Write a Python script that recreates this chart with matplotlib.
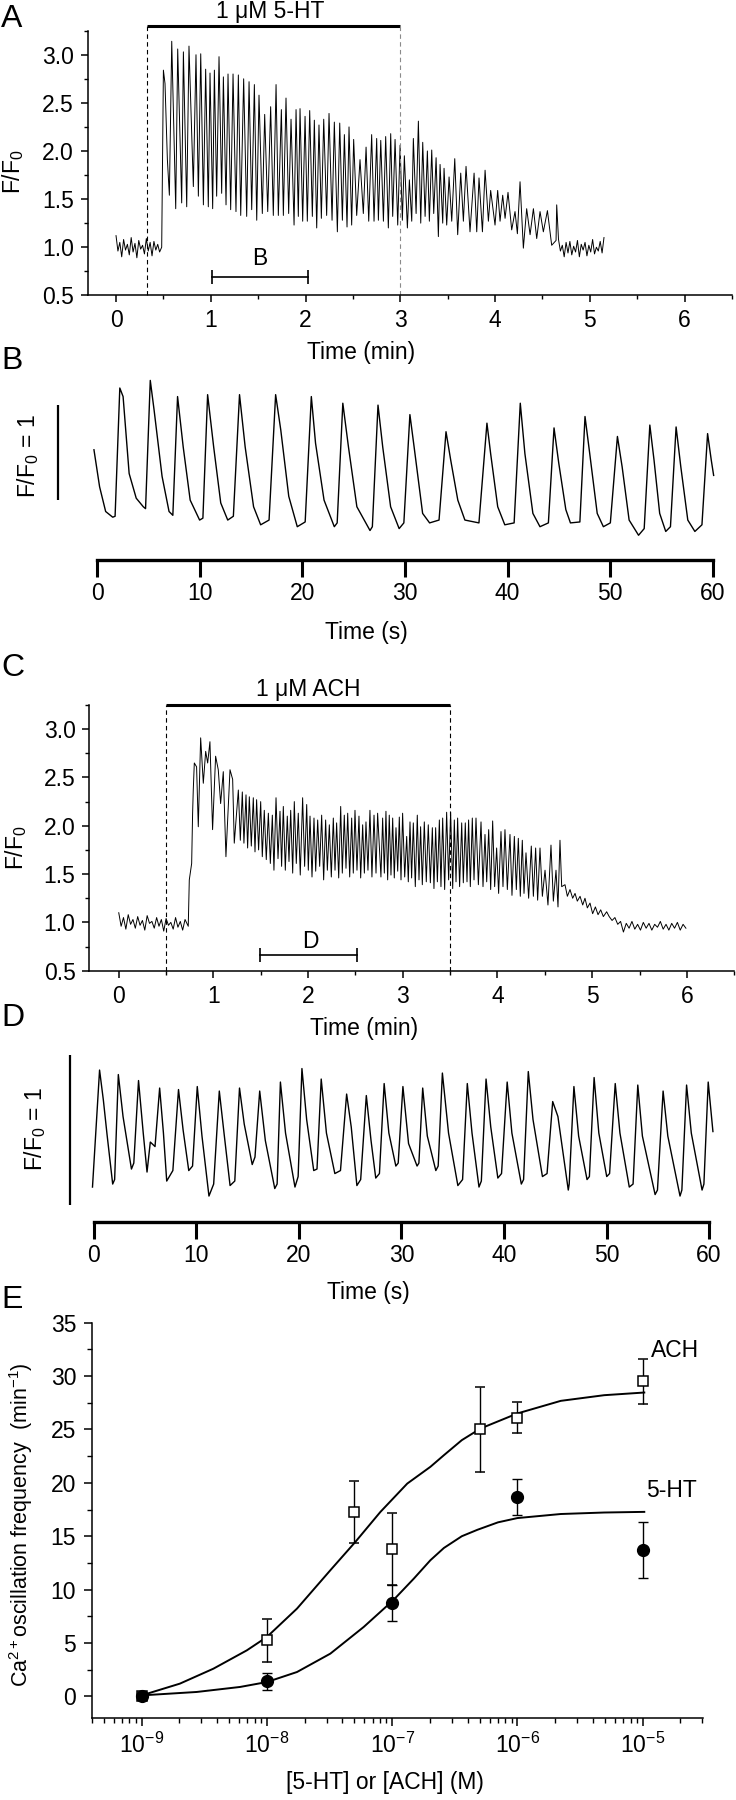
import numpy as np
import matplotlib
matplotlib.use("Agg")
import matplotlib.pyplot as plt
from matplotlib.ticker import MultipleLocator, LogLocator, NullFormatter

plt.rcParams['font.family'] = ['Liberation Sans', 'DejaVu Sans']
plt.rcParams['mathtext.fontset'] = 'custom'
plt.rcParams['mathtext.rm'] = 'Liberation Sans'
plt.rcParams['mathtext.it'] = 'Liberation Sans:italic'
plt.rcParams['mathtext.bf'] = 'Liberation Sans:bold'

# ---------------- panel A : 1 uM 5-HT, F/F0 vs time (min) ----------------
a_base_t = [0.00, 0.02, 0.04, 0.06, 0.08, 0.10, 0.12, 0.14, 0.16, 0.18, 0.20, 0.22,
            0.24, 0.26, 0.28, 0.30, 0.32, 0.34, 0.36, 0.38, 0.40, 0.42, 0.44, 0.46, 0.482]
a_base_v = [1.12, 0.96, 1.05, 0.90, 1.08, 0.97, 1.03, 0.92, 1.10, 0.95, 1.04, 0.89,
            1.07, 0.98, 1.02, 0.93, 1.09, 0.96, 1.05, 0.91, 1.06, 0.97, 1.03, 0.95, 1.00]
a_peak_t = [0.500, 0.517, 0.588, 0.651, 0.711, 0.770, 0.844, 0.894, 0.946, 0.992, 1.038,
            1.087, 1.133, 1.182, 1.235, 1.291, 1.347, 1.404, 1.460, 1.509, 1.569, 1.632,
            1.689, 1.745, 1.794, 1.847, 1.900, 1.942, 1.995, 2.044, 2.093, 2.142, 2.192,
            2.248, 2.304, 2.361, 2.410, 2.459, 2.508, 2.575, 2.639, 2.698, 2.751,
            2.794, 2.846, 2.899, 2.945, 2.998, 3.043, 3.096, 3.138, 3.191, 3.237, 3.286,
            3.332, 3.378, 3.420, 3.462, 3.515, 3.575, 3.638, 3.694, 3.779, 3.831, 3.895,
            3.954, 4.028, 4.081, 4.137, 4.211, 4.264, 4.334, 4.405, 4.475, 4.553, 4.651]
a_peak_v = [2.84, 2.70, 3.14, 3.06, 3.03, 3.09, 3.00, 3.01, 2.85, 2.81, 2.84,
            2.98, 2.77, 2.80, 2.80, 2.79, 2.75, 2.72, 2.69, 2.58, 2.38, 2.46,
            2.69, 2.43, 2.55, 2.33, 2.43, 2.44, 2.36, 2.42, 2.32, 2.27, 2.33,
            2.39, 2.30, 2.29, 2.17, 2.25, 2.12, 1.91, 2.04, 2.17, 2.13,
            2.11, 2.15, 2.18, 2.12, 2.06, 1.95, 1.70, 2.13, 2.31, 2.09, 2.00,
            2.01, 1.93, 1.86, 1.82, 1.73, 1.92, 1.77, 1.84, 1.77, 1.72, 1.80,
            1.59, 1.59, 1.54, 1.57, 1.37, 1.68, 1.40, 1.40, 1.37, 1.38, 1.44]
a_trough_t = [0.542, 0.563, 0.630, 0.693, 0.746, 0.816, 0.869, 0.922, 0.974, 1.020, 1.062,
              1.115, 1.161, 1.210, 1.266, 1.316, 1.379, 1.432, 1.485, 1.544, 1.601, 1.660,
              1.713, 1.766, 1.822, 1.879, 1.924, 1.970, 2.019, 2.072, 2.118, 2.167, 2.223,
              2.280, 2.336, 2.389, 2.438, 2.487, 2.540, 2.610, 2.667, 2.723,
              2.769, 2.822, 2.874, 2.920, 2.973, 3.022, 3.075, 3.121, 3.167, 3.216, 3.262,
              3.307, 3.353, 3.402, 3.448, 3.490, 3.543, 3.606, 3.666, 3.736, 3.807, 3.867,
              3.930, 4.000, 4.053, 4.106, 4.176, 4.236, 4.299, 4.370, 4.440, 4.510, 4.598, 4.644]
a_trough_v = [1.91, 1.54, 1.40, 1.46, 1.42, 1.63, 1.53, 1.44, 1.42, 1.40, 1.53,
              1.56, 1.44, 1.39, 1.37, 1.33, 1.32, 1.39, 1.28, 1.35, 1.37, 1.33,
              1.33, 1.33, 1.35, 1.23, 1.32, 1.27, 1.27, 1.32, 1.20, 1.30, 1.33,
              1.28, 1.16, 1.28, 1.21, 1.23, 1.33, 1.35, 1.27, 1.27,
              1.28, 1.27, 1.20, 1.32, 1.23, 1.28, 1.20, 1.27, 1.35, 1.25, 1.32,
              1.27, 1.35, 1.11, 1.25, 1.23, 1.27, 1.13, 1.27, 1.16, 1.16, 1.16,
              1.27, 1.23, 1.27, 1.30, 1.18, 1.14, 0.99, 1.13, 1.09, 1.16, 1.02, 1.07]
a_tail_t = [4.67, 4.69, 4.71, 4.73, 4.75, 4.77, 4.79, 4.81, 4.83, 4.85, 4.87, 4.89, 4.91,
            4.93, 4.95, 4.97, 4.99, 5.01, 5.03, 5.05, 5.07, 5.09, 5.11, 5.13, 5.15]
a_tail_v = [1.08, 0.96, 1.02, 0.90, 1.05, 0.94, 1.06, 0.92, 1.01, 0.95, 1.07, 0.90, 1.03,
            0.97, 1.05, 0.91, 1.02, 0.95, 1.08, 0.93, 1.00, 0.96, 1.06, 0.94, 1.10]

# ---------------- panel B : 1 min of the 5-HT trace (s) ----------------
b_t = [-0.32, 0.23, 0.82, 1.51, 1.74, 2.20, 2.52, 3.11, 3.80, 4.49, 4.71,
       5.17, 5.54, 6.32, 7.00, 7.37, 7.83, 8.38, 9.06, 9.98, 10.30,
       10.76, 11.35, 12.04, 12.72, 13.27, 13.87, 14.42, 15.24, 15.93, 16.75,
       17.39, 17.89, 18.67, 19.50, 20.27, 20.87, 21.28, 22.11, 23.11, 23.39,
       23.94, 24.49, 25.31, 26.59, 26.82, 27.37, 27.83, 28.60, 29.43, 29.89,
       30.48, 30.89, 31.72, 32.40, 33.32, 34.00, 34.46, 35.15, 35.84, 37.21,
       37.99, 38.35, 39.04, 39.73, 40.64, 41.24, 41.69, 42.47, 43.16, 43.98,
       44.53, 44.99, 45.68, 46.13, 47.05, 47.55, 48.01, 48.74, 49.34, 50.02,
       50.71, 51.17, 51.85, 52.77, 53.32, 53.87, 54.28, 54.83, 55.42, 55.88,
       56.43, 56.89, 57.57, 58.26, 58.95, 59.50, 59.86, 60.09]
b_v = [2.10, 1.71, 1.45, 1.39, 1.40, 2.75, 2.66, 1.85, 1.59, 1.50, 1.48,
       2.83, 2.52, 1.82, 1.45, 1.41, 2.66, 2.13, 1.57, 1.36, 1.38,
       2.68, 2.13, 1.54, 1.36, 1.40, 2.68, 2.13, 1.50, 1.31, 1.36,
       2.68, 2.31, 1.61, 1.29, 1.34, 2.66, 2.17, 1.57, 1.29, 1.33,
       2.59, 2.13, 1.50, 1.25, 1.29, 2.57, 2.13, 1.50, 1.27, 1.33,
       2.47, 2.13, 1.43, 1.33, 1.36, 2.29, 1.99, 1.57, 1.36, 1.33,
       2.38, 2.06, 1.50, 1.31, 1.33, 2.59, 2.06, 1.43, 1.29, 1.33,
       2.33, 1.96, 1.47, 1.33, 1.34, 2.45, 2.06, 1.43, 1.29, 1.33,
       2.24, 1.92, 1.36, 1.20, 1.27, 2.36, 1.99, 1.43, 1.24, 1.29,
       2.34, 1.92, 1.36, 1.24, 1.31, 2.27, 1.99, 1.83]

# ---------------- panel C : 1 uM ACH, F/F0 vs time (min) ----------------
c_base_t = [0.000, 0.025, 0.050, 0.075, 0.100, 0.125, 0.150, 0.175, 0.200, 0.225,
            0.250, 0.275, 0.300, 0.325, 0.350, 0.375, 0.400, 0.425, 0.450, 0.475,
            0.500, 0.525, 0.550, 0.575, 0.600, 0.625, 0.650, 0.675, 0.700, 0.734]
c_base_v = [1.10, 0.96, 1.05, 0.93, 1.08, 0.98, 1.03, 0.94, 1.06, 0.97,
            1.02, 0.92, 1.07, 0.99, 1.01, 0.94, 1.05, 0.96, 1.03, 0.91,
            1.04, 0.97, 1.00, 0.93, 1.05, 0.95, 1.01, 0.92, 1.03, 0.96]
c_early_t = [0.745, 0.770, 0.780, 0.787, 0.798, 0.822, 0.840, 0.865, 0.893, 0.918, 0.939,
             0.963, 0.991, 1.023, 1.051, 1.076, 1.104, 1.132, 1.175, 1.203, 1.220,
             1.263, 1.284]
c_early_v = [1.44, 1.61, 2.13, 2.37, 2.65, 2.61, 1.99, 2.91, 2.44, 2.77, 2.65,
             2.87, 1.96, 2.72, 2.58, 2.23, 2.56, 1.68, 2.58, 2.48, 1.82,
             2.37, 1.85]
c_peak_t = [1.305, 1.344, 1.379, 1.421, 1.456, 1.499, 1.537, 1.580, 1.622, 1.661, 1.703,
            1.738, 1.780, 1.816, 1.854, 1.896, 1.942, 1.985, 2.020, 2.062, 2.101, 2.143,
            2.185, 2.224, 2.266, 2.301, 2.344, 2.382, 2.418, 2.460, 2.495, 2.537, 2.576,
            2.611, 2.653, 2.696, 2.734, 2.787, 2.822, 2.857, 2.893, 2.928, 2.963, 2.998,
            3.041, 3.076, 3.111, 3.153, 3.188, 3.227, 3.269, 3.312, 3.347, 3.386, 3.421,
            3.463, 3.505, 3.544, 3.579, 3.622, 3.660, 3.695, 3.734, 3.773, 3.826, 3.868,
            3.907, 3.949, 3.991, 4.037, 4.079, 4.132, 4.178, 4.220, 4.262, 4.301, 4.357,
            4.403, 4.449, 4.502, 4.565, 4.618, 4.660]
c_peak_v = [2.35, 2.32, 2.30, 2.29, 2.27, 2.25, 2.16, 2.13, 2.11, 2.29, 2.15,
            2.20, 2.10, 2.16, 2.25, 2.13, 2.29, 2.22, 2.10, 2.08, 2.06, 2.11,
            2.06, 2.01, 2.08, 2.03, 2.20, 2.11, 2.13, 2.08, 2.16, 2.10, 2.01,
            2.04, 2.16, 2.11, 2.13, 2.08, 2.15, 2.11, 2.08, 1.98, 2.09, 2.13,
            1.89, 2.04, 2.03, 2.11, 1.99, 2.04, 2.01, 1.98, 1.98, 2.06, 2.08,
            2.14, 2.14, 2.06, 2.08, 2.03, 2.03, 2.06, 2.08, 2.08, 2.04, 1.91,
            1.96, 2.05, 1.77, 1.94, 1.96, 1.91, 1.89, 1.87, 1.85, 1.72, 1.79,
            1.77, 1.77, 1.54, 1.80, 1.54, 1.85]
c_trough_t = [1.322, 1.361, 1.400, 1.439, 1.477, 1.516, 1.558, 1.601, 1.639, 1.682, 1.720,
              1.759, 1.798, 1.837, 1.875, 1.917, 1.963, 2.002, 2.041, 2.080, 2.122, 2.164,
              2.203, 2.245, 2.284, 2.323, 2.361, 2.400, 2.439, 2.477, 2.516, 2.555, 2.594,
              2.632, 2.674, 2.717, 2.769, 2.805, 2.840, 2.875, 2.910, 2.946, 2.981, 3.020,
              3.058, 3.093, 3.132, 3.171, 3.206, 3.248, 3.291, 3.329, 3.365, 3.403, 3.442,
              3.484, 3.527, 3.562, 3.600, 3.639, 3.678, 3.713, 3.752, 3.798, 3.847, 3.886,
              3.928, 3.970, 4.012, 4.058, 4.104, 4.153, 4.199, 4.241, 4.280, 4.329, 4.379,
              4.424, 4.474, 4.533, 4.590, 4.639]
c_trough_v = [1.82, 1.77, 1.79, 1.73, 1.75, 1.68, 1.65, 1.61, 1.54, 1.66, 1.58,
              1.54, 1.63, 1.51, 1.61, 1.49, 1.58, 1.54, 1.47, 1.53, 1.58, 1.44,
              1.54, 1.47, 1.54, 1.46, 1.51, 1.56, 1.47, 1.51, 1.54, 1.46, 1.51,
              1.54, 1.47, 1.51, 1.47, 1.51, 1.44, 1.49, 1.46, 1.53, 1.44, 1.47,
              1.42, 1.46, 1.37, 1.44, 1.39, 1.42, 1.41, 1.35, 1.42, 1.37, 1.34,
              1.44, 1.35, 1.42, 1.37, 1.41, 1.42, 1.37, 1.44, 1.39, 1.37, 1.42,
              1.34, 1.37, 1.30, 1.37, 1.34, 1.28, 1.34, 1.27, 1.30, 1.25, 1.27,
              1.23, 1.27, 1.18, 1.22, 1.16]
c_tail_t = [4.678, 4.713, 4.738, 4.766, 4.794, 4.819, 4.843, 4.872, 4.900, 4.924, 4.949,
            4.977, 5.005, 5.034, 5.062, 5.090, 5.118, 5.153, 5.18, 5.21, 5.24, 5.27,
            5.30, 5.33, 5.36, 5.39, 5.42, 5.45, 5.48, 5.51, 5.54, 5.57, 5.60, 5.63,
            5.66, 5.69, 5.72, 5.75, 5.78, 5.81, 5.84, 5.87, 5.90, 5.93, 5.96, 5.99]
c_tail_v = [1.37, 1.39, 1.27, 1.34, 1.25, 1.30, 1.22, 1.27, 1.18, 1.25, 1.15,
            1.20, 1.09, 1.16, 1.08, 1.13, 1.06, 1.11, 1.06, 1.02, 1.05, 0.98,
            1.01, 0.90, 0.99, 0.94, 1.01, 0.93, 0.98, 0.92, 1.00, 0.94, 0.99, 0.92,
            0.98, 0.95, 1.01, 0.93, 0.98, 0.92, 0.99, 0.94, 1.00, 0.92, 0.98, 0.94]

# ---------------- panel D : 1 min of the ACH trace (s) ----------------
d_t = [-0.14, 0.55, 0.92, 1.28, 1.83, 2.02, 2.38, 2.84, 3.66, 3.89, 4.35, 4.81, 5.18,
       5.50, 5.96, 6.41, 6.78, 7.10, 7.70, 8.25, 8.70, 9.25, 9.62, 10.08, 10.54,
       11.22, 11.68, 12.23, 12.69, 13.28, 13.74, 14.20, 14.66, 15.44, 15.71, 16.17,
       16.72, 17.64, 17.87, 18.19, 18.69, 19.61, 19.92, 20.29, 20.75, 21.44, 21.76,
       22.17, 22.68, 23.50, 24.05, 24.65, 25.10, 25.65, 26.02, 26.57, 27.03, 27.49,
       27.85, 28.31, 28.77, 29.45, 29.68, 30.14, 30.69, 31.52, 31.70, 32.07, 32.52,
       33.35, 33.58, 33.99, 34.59, 35.50, 35.96, 36.42, 36.88, 37.56, 37.79, 38.25,
       38.71, 39.40, 39.76, 40.31, 40.77, 41.69, 41.91, 42.37, 42.83, 43.75, 44.20,
       44.75, 45.26, 46.27, 46.36, 46.82, 47.28, 48.10, 48.33, 48.79, 49.25, 50.02,
       50.30, 50.85, 51.31, 52.22, 52.59, 53.05, 53.50, 54.74, 54.97, 55.52, 55.98,
       57.17, 57.35, 57.81, 58.27, 59.32, 59.50, 59.92, 60.38]
d_v = [1.27, 2.05, 1.85, 1.62, 1.29, 1.32, 2.02, 1.74, 1.39, 1.43, 1.98, 1.63, 1.37,
       1.57, 1.54, 1.93, 1.63, 1.31, 1.38, 1.92, 1.65, 1.38, 1.41, 1.94, 1.61,
       1.21, 1.29, 1.91, 1.63, 1.28, 1.31, 1.93, 1.69, 1.42, 1.47, 1.91,
       1.58, 1.26, 1.29, 1.97, 1.63, 1.27, 1.34, 2.06, 1.72, 1.38, 1.39,
       1.99, 1.63, 1.36, 1.38, 1.89, 1.67, 1.28, 1.32, 1.88, 1.58, 1.33,
       1.36, 1.96, 1.63, 1.41, 1.43, 1.94, 1.56, 1.41, 1.43, 1.93, 1.61,
       1.38, 1.41, 2.03, 1.63, 1.28, 1.32, 1.96, 1.63, 1.27, 1.31, 1.99,
       1.67, 1.33, 1.36, 1.97, 1.63, 1.29, 1.32, 2.04, 1.72, 1.34, 1.36,
       1.84, 1.74, 1.25, 1.29, 1.94, 1.61, 1.32, 1.34, 2.00, 1.63, 1.34,
       1.36, 1.96, 1.63, 1.27, 1.29, 1.95, 1.61, 1.22, 1.25, 1.91, 1.61,
       1.21, 1.25, 1.95, 1.63, 1.25, 1.29, 1.97, 1.64]

# ---------------- panel E : dose-response ----------------
conc = [1e-9, 1e-8, 5e-8, 1e-7, 5e-7, 1e-6, 1e-5]
ach_freq = [0.0, 5.25, 17.3, 13.8, 25.0, 26.1, 29.5]
ach_err = [0.2, 2.0, 2.9, 3.35, 4.0, 1.45, 2.1]
ht_conc = [1e-9, 1e-8, 1e-7, 1e-6, 1e-5]
ht_freq = [0.0, 1.4, 8.75, 18.7, 13.7]
ht_err = [0.3, 0.8, 1.7, 1.7, 2.6]
# fitted curves
ach_fit_x = [1e-9, 2.02e-9, 3.74e-9, 6.92e-9, 1e-8, 1.74e-8, 3.21e-8, 5.08e-8, 8.05e-8,
             1.32e-7, 2.02e-7, 2.59e-7, 3.6e-7, 5.08e-7, 1e-6, 2.22e-6, 4.93e-6, 1.03e-5]
ach_fit_y = [0.09, 1.19, 2.59, 4.31, 5.56, 8.22, 11.81, 14.46, 17.27,
             19.93, 21.5, 22.59, 24.0, 25.09, 26.5, 27.68, 28.21, 28.46]
ht_fit_x = [1e-9, 2.75e-9, 6.11e-9, 1e-8, 1.74e-8, 3.21e-8, 5.93e-8, 1.02e-7, 1.49e-7,
            2.02e-7, 2.59e-7, 3.6e-7, 4.79e-7, 7e-7, 1e-6, 2.22e-6, 4.93e-6, 1.03e-5]
ht_fit_y = [0.09, 0.41, 0.88, 1.34, 2.28, 4.0, 6.5, 9.0, 11.03,
            12.75, 13.9, 15.0, 15.6, 16.3, 16.7, 17.08, 17.22, 17.28]

W, H = 736.0, 1800.0
FS = 16.5

fig = plt.figure(figsize=(W / 100, H / 100), dpi=100)


def px_axes(left, top, right, bottom):
    return fig.add_axes([left / W, 1 - bottom / H, (right - left) / W, (bottom - top) / H])


def px_text(x, y, s, **kw):
    fig.text(x / W, 1 - y / H, s, **kw)


def merge(*pairs):
    t = np.concatenate([np.asarray(p[0], float) for p in pairs])
    v = np.concatenate([np.asarray(p[1], float) for p in pairs])
    order = np.argsort(t, kind='stable')
    return t[order], v[order]


def style_trace_axes(ax):
    for s in ['top', 'right']:
        ax.spines[s].set_visible(False)
    for s in ['left', 'bottom']:
        ax.spines[s].set_linewidth(1.1)
    ax.set_xlim(-0.3, 6.5)
    ax.set_ylim(0.5, 3.25)
    ax.xaxis.set_major_locator(MultipleLocator(1))
    ax.xaxis.set_minor_locator(MultipleLocator(0.5))
    ax.yaxis.set_major_locator(MultipleLocator(0.5))
    ax.yaxis.set_minor_locator(MultipleLocator(0.25))
    ax.tick_params(which='major', direction='out', length=5, width=1.1, labelsize=FS, pad=5)
    ax.tick_params(which='minor', direction='out', length=3, width=1.0)


def style_time_axes(ax):
    for s in ['top', 'right', 'left']:
        ax.spines[s].set_visible(False)
    ax.spines['bottom'].set_linewidth(2.4)
    ax.spines['bottom'].set_bounds(0, 60)
    ax.set_yticks([])
    ax.set_xticks([0, 10, 20, 30, 40, 50, 60])
    ax.tick_params(axis='x', direction='out', length=12, width=2.2, labelsize=FS, pad=4)


# ---- A ----
axA = px_axes(87.6, 30.7, 731.9, 295.3)
style_trace_axes(axA)
tA, vA = merge((a_base_t, a_base_v), (a_peak_t, a_peak_v),
               (a_trough_t, a_trough_v), (a_tail_t, a_tail_v))
axA.plot(tA, vA, color='black', lw=0.7)
axA.plot([0.33, 3.0], [3.30, 3.30], color='black', lw=2.2, clip_on=False, solid_capstyle='butt')
axA.plot([0.33, 0.33], [0.5, 3.30], color='black', lw=0.8, ls=(0, (4, 3)), clip_on=False)
axA.plot([3.0, 3.0], [0.5, 3.30], color='#8a8a8a', lw=0.8, ls=(0, (4, 3)), clip_on=False)
axA.text(1.63, 3.335, '1 μM 5-HT', ha='center', va='bottom', fontsize=FS, clip_on=False)
axA.plot([1.015, 2.026], [0.69, 0.69], color='black', lw=1.2, marker='|', markersize=10, mew=1.2)
axA.text(1.52, 0.885, 'B', ha='center', va='center', fontsize=FS)

# ---- B ----
axB = px_axes(40, 375, 720, 560)
style_time_axes(axB)
axB.set_xlim(-5.58, 60.71)
axB.set_ylim(0.9395, 2.887)
axB.plot(b_t, b_v, color='black', lw=1.0, clip_on=False)
axB.plot([-3.85, -3.85], [1.571, 2.571], color='black', lw=1.6, solid_capstyle='butt')

# ---- C ----
axC = px_axes(89.4, 705, 734.2, 970.7)
style_trace_axes(axC)
axC.set_xlim(-0.31, 6.5)
tC, vC = merge((c_base_t, c_base_v), (c_early_t, c_early_v), (c_peak_t, c_peak_v),
               (c_trough_t, c_trough_v), (c_tail_t, c_tail_v))
axC.plot(tC, vC, color='black', lw=0.7)
axC.plot([0.5, 3.5], [3.255, 3.255], color='black', lw=2.2, clip_on=False, solid_capstyle='butt')
axC.plot([0.5, 0.5], [0.5, 3.255], color='black', lw=0.8, ls=(0, (4, 3)), clip_on=False)
axC.plot([3.5, 3.5], [0.5, 3.255], color='black', lw=0.8, ls=(0, (4, 3)), clip_on=False)
axC.text(2.0, 3.29, '1 μM ACH', ha='center', va='bottom', fontsize=FS, clip_on=False)
axC.plot([1.487, 2.514], [0.66, 0.66], color='black', lw=1.2, marker='|', markersize=10, mew=1.2)
axC.text(2.02, 0.80, 'D', ha='center', va='center', fontsize=FS)

# ---- D ----
axD = px_axes(40, 1045, 720, 1222)
style_time_axes(axD)
axD.set_xlim(-5.26, 61.07)
axD.set_ylim(1.037, 2.217)
axD.plot(d_t, d_v, color='black', lw=1.0, clip_on=False)
axD.plot([-2.38, -2.38], [1.15, 2.15], color='black', lw=1.6, solid_capstyle='butt')

# ---- E ----
axE = px_axes(91.5, 1322.7, 702.8, 1717.7)
axE.set_xscale('log')
axE.set_xlim(10 ** -9.4, 10 ** -4.52)
axE.set_ylim(-2, 35)
for s in ['top', 'right']:
    axE.spines[s].set_visible(False)
for s in ['left', 'bottom']:
    axE.spines[s].set_linewidth(1.1)
axE.xaxis.set_major_locator(LogLocator(base=10, numticks=12))
axE.xaxis.set_minor_locator(LogLocator(base=10, subs=np.arange(2, 10), numticks=12))
axE.xaxis.set_minor_formatter(NullFormatter())
axE.yaxis.set_major_locator(MultipleLocator(5))
axE.yaxis.set_minor_locator(MultipleLocator(2.5))
axE.tick_params(which='major', direction='out', length=6, width=1.1, labelsize=FS, pad=5)
axE.tick_params(which='minor', direction='out', length=3.5, width=1.0)
axE.plot(ach_fit_x, ach_fit_y, color='black', lw=1.4, zorder=2)
axE.plot(ht_fit_x, ht_fit_y, color='black', lw=1.4, zorder=2)
axE.errorbar(conc, ach_freq, yerr=ach_err, fmt='s', ms=7, mfc='white', mec='black', mew=1.1,
             ecolor='black', elinewidth=1.0, capsize=3.5, capthick=1.0, zorder=3)
axE.errorbar(ht_conc, ht_freq, yerr=ht_err, fmt='o', ms=8.5, mfc='black', mec='black',
             ecolor='black', elinewidth=1.0, capsize=3.5, capthick=1.0, zorder=4)
axE.text(10 ** -4.935, 32.4, 'ACH', ha='left', va='center', fontsize=FS)
axE.text(10 ** -4.975, 19.3, '5-HT', ha='left', va='center', fontsize=FS)

# ---- axis labels and panel letters ----
px_text(13, 172, 'F/F$_0$', rotation=90, ha='center', va='center', fontsize=FS)
px_text(16, 848, 'F/F$_0$', rotation=90, ha='center', va='center', fontsize=FS)
px_text(28, 456, 'F/F$_0$ = 1', rotation=90, ha='center', va='center', fontsize=FS)
px_text(35, 1129, 'F/F$_0$ = 1', rotation=90, ha='center', va='center', fontsize=FS)
px_text(7, 1525, 'Ca$^{2+}$oscillation frequency  (min$^{-1}$)', rotation=90,
        ha='left', va='center', fontsize=15.5)
px_text(361, 353, 'Time (min)', ha='center', va='center', fontsize=FS)
px_text(366, 632, 'Time (s)', ha='center', va='center', fontsize=FS)
px_text(364, 1028, 'Time (min)', ha='center', va='center', fontsize=FS)
px_text(368, 1293, 'Time (s)', ha='center', va='center', fontsize=FS)
px_text(385, 1783, '[5-HT] or [ACH] (M)', ha='center', va='center', fontsize=FS)

for letter, y in [('A', 4), ('B', 346), ('C', 653), ('D', 1003), ('E', 1285)]:
    px_text(1, y, letter, ha='left', va='top', fontsize=23)

fig.savefig('out.png', dpi=100)
